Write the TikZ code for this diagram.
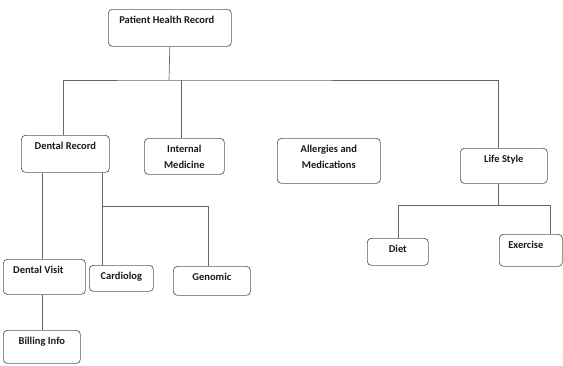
\documentclass[tikz,border=0pt]{standalone}
\usepackage{fontspec}
\setmainfont{Carlito}
\tikzset{
	record tree/.cd,
	box/.style = {
		draw = black!65,
		line width = 0.7pt,
		rounded corners = 4pt,
		anchor = north west,
		inner sep = 0
	},
	caption/.style = {
		anchor = north,
		inner sep = 0,
		yshift = -7pt,
		align = center,
		text = black!90,
		font = \fontsize{10.5}{15.5}\selectfont\bfseries
	},
	link/.style = {
		draw = black!60,
		line width = 0.7pt
	},
}

\begin{document}
\begin{tikzpicture}[x = 1pt, y = -1pt]
		\useasboundingbox (0, 0) rectangle (563, 365);
		% boxes, placed by their top left corner
		\node[record tree/box, minimum width = 123pt, minimum height = 37pt,
			label = {[record tree/caption, xshift = -3pt]north:Patient Health Record}] (phr) at (108, 9) {};
		\node[record tree/box, minimum width = 88pt, minimum height = 37pt,
			label = {[record tree/caption]north:Dental Record}] (dental) at (21, 135) {};
		\node[record tree/box, minimum width = 80pt, minimum height = 36pt,
			label = {[record tree/caption]north:Internal\\Medicine}] (internal) at (144, 138) {};
		\node[record tree/box, minimum width = 103pt, minimum height = 45pt,
			label = {[record tree/caption]north:Allergies and\\Medications}] (allergy) at (277, 138) {};
		\node[record tree/box, minimum width = 87pt, minimum height = 35pt,
			label = {[record tree/caption]north:Life Style}] (life) at (460, 148) {};
		\node[record tree/box, minimum width = 82pt, minimum height = 35pt,
			label = {[record tree/caption, xshift = -6pt]north:Dental Visit}] (visit) at (3, 259) {};
		\node[record tree/box, minimum width = 64pt, minimum height = 26pt,
			label = {[record tree/caption]north:Cardiolog}] (cardio) at (89, 265) {};
		\node[record tree/box, minimum width = 77pt, minimum height = 29pt,
			label = {[record tree/caption]north:Genomic}] (genomic) at (173, 266) {};
		\node[record tree/box, minimum width = 61pt, minimum height = 27pt,
			label = {[record tree/caption]north:Diet}] (diet) at (367, 238) {};
		\node[record tree/box, minimum width = 63pt, minimum height = 32pt,
			label = {[record tree/caption, xshift = -5pt]north:Exercise}] (exercise) at (499, 234) {};
		\node[record tree/box, minimum width = 77pt, minimum height = 33pt,
			label = {[record tree/caption]north:Billing Info}] (billing) at (3, 330) {};
		% connectors
		\coordinate (bus) at (169, 80);
		\coordinate (dsplit) at (102, 206);
		\coordinate (lsplit) at (498, 205);
		\coordinate (exdrop) at (550, 205);
		\draw[record tree/link] (phr.south) -- (bus);
		\draw[record tree/link] ([xshift = -2pt]dental.north) |- (bus) -| (lsplit |- life.north);
		\draw[record tree/link] ([xshift = -3pt]internal.north) -- ([xshift = -3pt]internal.north |- bus);
		\draw[record tree/link] (lsplit |- life.south) -- (lsplit);
		\draw[record tree/link] (diet.north) |- (exdrop) -- (exdrop |- exercise.north);
		\draw[record tree/link] ([xshift = -2pt]visit.north) -- ([xshift = -2pt]visit.north |- dental.south);
		\draw[record tree/link] (dsplit |- dental.south) -- (dsplit |- cardio.north);
		\draw[record tree/link] (dsplit) -| ([xshift = -4pt]genomic.north);
		\draw[record tree/link] (billing.north) -- (billing.north |- visit.south);
	\end{tikzpicture}
\end{document}
